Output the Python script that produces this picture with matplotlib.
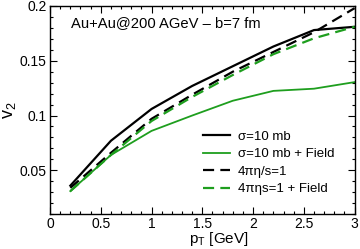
import matplotlib
matplotlib.use("Agg")
import matplotlib.pyplot as plt
from matplotlib.ticker import MultipleLocator

plt.rcParams['font.family'] = ['Liberation Sans', 'DejaVu Sans']

pt = [0.2, 0.6, 1.0, 1.4, 1.8, 2.2, 2.6, 3.0]
v2_sigma = [0.036, 0.077, 0.106, 0.127, 0.145, 0.163, 0.178, 0.181]
v2_sigma_field = [0.031, 0.064, 0.086, 0.100, 0.1135, 0.1225, 0.1245, 0.1305]
v2_eta = [0.034, 0.066, 0.097, 0.119, 0.140, 0.158, 0.176, 0.198]
v2_eta_field = [0.031, 0.064, 0.095, 0.117, 0.137, 0.156, 0.1705, 0.181]

green = '#1e9e1e'

fig = plt.figure(figsize=(3.6, 2.49), dpi=100)
ax = fig.add_axes([0.139, 0.14, 0.846, 0.836])

ax.plot(pt, v2_sigma, c='k', lw=1.6, label='σ=10 mb')
ax.plot(pt, v2_sigma_field, c=green, lw=1.3, label='σ=10 mb + Field')
ax.plot(pt, v2_eta, c='k', lw=1.6, ls=(0, (5, 2.8)), label='4πη/s=1')
ax.plot(pt, v2_eta_field, c=green, lw=1.6, ls=(0, (5, 2.8)), label='4πηs=1 + Field')

ax.set_xlim(0, 3)
ax.set_ylim(0.01, 0.2)
ax.xaxis.set_minor_locator(MultipleLocator(0.1))
ax.yaxis.set_minor_locator(MultipleLocator(0.01))
ax.set_xticks([0, 0.5, 1, 1.5, 2, 2.5, 3])
ax.set_xticklabels(['0', '0.5', '1', '1.5', '2', '2.5', '3'])
ax.set_yticks([0.05, 0.1, 0.15, 0.2])
ax.set_yticklabels(['0.05', '0.1', '0.15', '0.2'])
ax.tick_params(which='both', direction='in', top=True, right=True, labelsize=10, width=0.8)
ax.tick_params(which='major', length=5, pad=2.5)
ax.tick_params(which='minor', length=2.5)
ax.tick_params(axis='x', pad=2)
for s in ax.spines.values():
    s.set_linewidth(1.0)

ax.set_xlabel('p$_\\mathregular{T}$ [GeV]', fontsize=11)
ax.xaxis.set_label_coords(0.555, -0.078)
ax.set_ylabel('v$_\\mathregular{2}$', fontsize=13, labelpad=1)

ax.text(0.07, 0.9, 'Au+Au@200 AGeV – b=7 fm', transform=ax.transAxes, fontsize=10.6)

ax.legend(loc='upper left', bbox_to_anchor=(0.503, 0.4), frameon=False, fontsize=9.5,
          handlelength=2.05, handletextpad=0.55, labelspacing=0.39,
          borderpad=0, borderaxespad=0)

fig.savefig('out.png', dpi=100)
